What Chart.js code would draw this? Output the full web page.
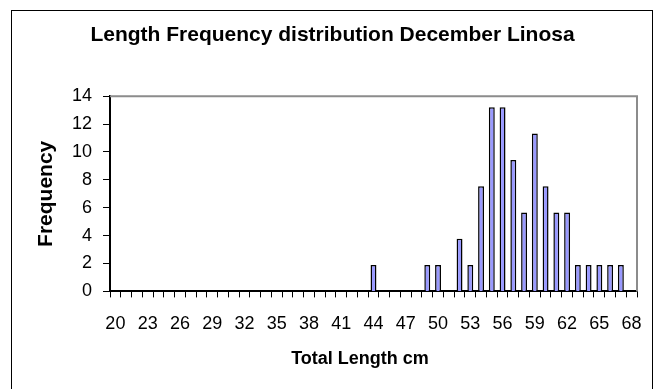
<!DOCTYPE html>
<html>
<head>
<meta charset="utf-8">
<script src="https://cdn.jsdelivr.net/npm/chart.js@4/dist/chart.umd.min.js"></script>
<style>
  html, body { margin: 0; padding: 0; background: #fff; }
  canvas { display: block; }
</style>
</head>
<body>
<canvas id="lengthChart" width="660" height="389"></canvas>
<script>
// Length classes (cm), one bar slot per centimetre
const lengths = [
    20, 21, 22, 23, 24, 25, 26, 27, 28, 29,
    30, 31, 32, 33, 34, 35, 36, 37, 38, 39,
    40, 41, 42, 43, 44, 45, 46, 47, 48, 49,
    50, 51, 52, 53, 54, 55, 56, 57, 58, 59,
    60, 61, 62, 63, 64, 65, 66, 67, 68
];

// Frequency
const frequency = [
    0, 0, 0, 0, 0, 0, 0, 0, 0, 0,
    0, 0, 0, 0, 0, 0, 0, 0, 0, 0,
    0, 0, 0, 0, 1.89, 0, 0, 0, 0, 1.89,
    1.89, 0, 3.77, 1.89, 7.55, 13.21, 13.21, 9.43, 5.66, 11.32,
    7.55, 5.66, 5.66, 1.89, 1.89, 1.89, 1.89, 1.89, 0
];

// Only every third length is labelled on the axis
const xTickLabels = ['20', '23', '26', '29', '32', '35', '38', '41', '44', '47', '50', '53', '56', '59', '62', '65', '68'];

const FONT = 'Liberation Sans, Arial, sans-serif';

const framePlugin = {
    id: 'frame',
    beforeDraw(chart) {
        const ctx = chart.ctx;
        ctx.save();
        ctx.fillStyle = '#fff';
        ctx.fillRect(0, 0, chart.width, chart.height);
        // outer chart border, bottom edge runs off the canvas
        ctx.strokeStyle = '#000';
        ctx.lineWidth = 1;
        ctx.strokeRect(11.5, 10.5, 641, 400);
        ctx.restore();
    },
    beforeDatasetsDraw(chart) {
        const { ctx, chartArea: a } = chart;
        ctx.save();
        ctx.strokeStyle = '#8c8c8c';
        ctx.lineWidth = 2;
        ctx.beginPath();
        ctx.moveTo(a.left, a.top);
        ctx.lineTo(a.right, a.top);
        ctx.lineTo(a.right, a.bottom);
        ctx.stroke();
        ctx.restore();
    },
    afterDraw(chart) {
        // x axis title sits a little left of the plot centre in the original
        const ctx = chart.ctx;
        ctx.save();
        ctx.fillStyle = '#000';
        ctx.font = 'bold 18px ' + FONT;
        ctx.textAlign = 'center';
        ctx.textBaseline = 'middle';
        ctx.fillText('Total Length cm', 360, 359);
        ctx.restore();
    }
};

new Chart(document.getElementById('lengthChart'), {
    type: 'bar',
    data: {
        labels: lengths.map(String),
        datasets: [{
            data: frequency,
            backgroundColor: '#9999ff',
            borderColor: '#000',
            borderWidth: 1.5,
            barPercentage: 0.55,
            categoryPercentage: 1
        }]
    },
    options: {
        responsive: false,
        animation: false,
        layout: { padding: { left: 28, right: 23, top: 12, bottom: 38 } },
        plugins: {
            legend: { display: false },
            tooltip: { enabled: false },
            title: {
                display: true,
                text: 'Length Frequency distribution December Linosa',
                color: '#000',
                font: { family: FONT, size: 21, weight: 'bold' },
                padding: { top: 11, bottom: 48 }
            }
        },
        scales: {
            x: {
                grid: { offset: true, drawOnChartArea: false, tickLength: 6, color: '#000' },
                border: { color: '#000', width: 2 },
                ticks: {
                    autoSkip: false,
                    maxRotation: 0,
                    color: '#000',
                    padding: 16,
                    font: { family: FONT, size: 18 },
                    callback: function(value, index) {
                        const label = this.getLabelForValue(value);
                        return xTickLabels.includes(label) ? label : '';
                    }
                }
            },
            y: {
                min: 0,
                max: 14,
                afterFit: (scale) => { scale.width = 82; },
                grid: { drawOnChartArea: false, tickLength: 7, color: '#000' },
                border: { color: '#000', width: 2 },
                ticks: {
                    stepSize: 2,
                    color: '#000',
                    padding: 11,
                    font: { family: FONT, size: 18 }
                },
                title: {
                    display: true,
                    text: 'Frequency',
                    color: '#000',
                    font: { family: FONT, size: 21, weight: 'bold' },
                    padding: { top: 6, bottom: 0 }
                }
            }
        }
    },
    plugins: [framePlugin]
});
</script>
</body>
</html>
